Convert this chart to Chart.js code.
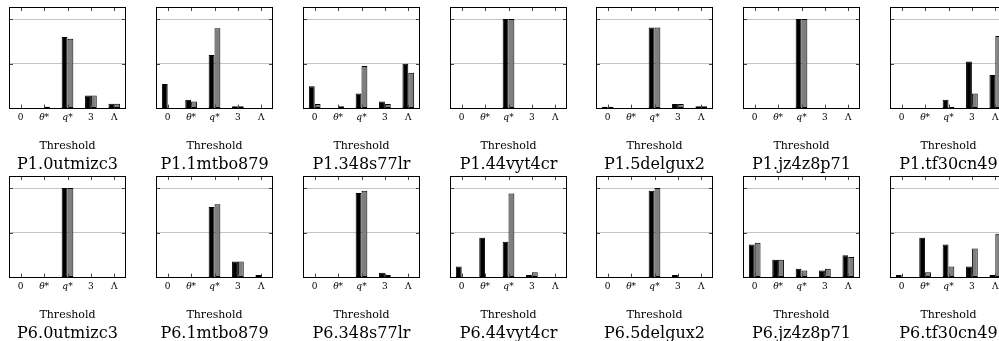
<!DOCTYPE html>
<html><head><meta charset="utf-8">
<script src="https://cdn.jsdelivr.net/npm/chart.js@4/dist/chart.umd.min.js"></script>
<style>
html,body{margin:0;padding:0;width:999px;height:341px;overflow:hidden;background:#fff;}
.panel{position:absolute;width:135px;height:177px;}
</style></head><body>
<script>
const categories = ['0', 'θ*', 'q*', '3', 'Λ'];
const axisTitle = 'Threshold';
const panelNames = [
  'P1.0utmizc3', 'P1.1mtbo879', 'P1.348s77lr', 'P1.44vyt4cr', 'P1.5delgux2', 'P1.jz4z8p71', 'P1.tf30cn49',
  'P6.0utmizc3', 'P6.1mtbo879', 'P6.348s77lr', 'P6.44vyt4cr', 'P6.5delgux2', 'P6.jz4z8p71', 'P6.tf30cn49'
];
// black bars (first series)
const blackValues = [
  [0, 0, 0.80, 0.147, 0.053],
  [0.275, 0.10, 0.60, 0.025, 0],
  [0.25, 0, 0.17, 0.08, 0.50],
  [0, 0, 1.0, 0, 0],
  [0.02, 0, 0.905, 0.05, 0.025],
  [0, 0, 1.0, 0, 0],
  [0, 0, 0.10, 0.525, 0.375],
  [0, 0, 1.0, 0, 0],
  [0, 0, 0.79, 0.18, 0.03],
  [0, 0, 0.945, 0.055, 0],
  [0.125, 0.445, 0.40, 0.03, 0],
  [0, 0, 0.97, 0.03, 0],
  [0.37, 0.20, 0.10, 0.08, 0.25],
  [0.03, 0.445, 0.37, 0.125, 0.03]
];
// gray bars (second series)
const grayValues = [
  [0, 0.02, 0.78, 0.147, 0.053],
  [0, 0.078, 0.897, 0.025, 0],
  [0.05, 0.025, 0.475, 0.05, 0.40],
  [0, 0, 1.0, 0, 0],
  [0.02, 0, 0.905, 0.05, 0.025],
  [0, 0, 1.0, 0, 0],
  [0, 0, 0.02, 0.17, 0.81],
  [0, 0, 1.0, 0, 0],
  [0, 0, 0.82, 0.18, 0],
  [0, 0, 0.97, 0.03, 0],
  [0, 0, 0.94, 0.06, 0],
  [0, 0, 1.0, 0, 0],
  [0.39, 0.20, 0.08, 0.10, 0.23],
  [0, 0.06, 0.125, 0.325, 0.49]
];
const yMax = 1.135;
const yStep = 0.5;

const FONT = "'DejaVu Serif', serif";

const framePlugin = {
  id: 'frame',
  afterDatasetsDraw(chart) {
    const {ctx, chartArea: a, scales: {x, y}} = chart;
    ctx.save();
    ctx.strokeStyle = '#444';
    ctx.lineWidth = 1;
    ctx.beginPath();
    x.ticks.forEach((t, i) => {
      const px = Math.round(x.getPixelForTick(i)) + 0.5;
      ctx.moveTo(px, a.top); ctx.lineTo(px, a.top + 4);
      ctx.moveTo(px, a.bottom); ctx.lineTo(px, a.bottom - 4);
    });
    y.ticks.forEach(t => {
      if (t.value === 0) return;
      const py = Math.round(y.getPixelForValue(t.value)) + 0.5;
      ctx.moveTo(a.left, py); ctx.lineTo(a.left + 4, py);
      ctx.moveTo(a.right, py); ctx.lineTo(a.right - 4, py);
    });
    ctx.stroke();
    ctx.strokeStyle = '#000';
    ctx.strokeRect(Math.round(a.left) + 0.5, Math.round(a.top) + 0.5,
      Math.round(a.right - a.left) - 1, Math.round(a.bottom - a.top) - 1);
    ctx.restore();
  }
};

panelNames.forEach((name, k) => {
  const row = Math.floor(k / 7), col = k % 7;
  const div = document.createElement('div');
  div.className = 'panel';
  div.style.left = Math.round(col * 146.85) + 'px';
  div.style.top = (row * 169) + 'px';
  const cv = document.createElement('canvas');
  div.appendChild(cv);
  document.body.appendChild(div);
  new Chart(cv, {
    type: 'bar',
    data: {
      labels: categories,
      datasets: [
        {data: blackValues[k], backgroundColor: '#000', borderColor: '#000', borderWidth: 1, borderSkipped: false,
         categoryPercentage: 0.5, barPercentage: 1.0},
        {data: grayValues[k], backgroundColor: '#7f7f7f', borderColor: '#000', borderWidth: 1, borderSkipped: false,
         categoryPercentage: 0.5, barPercentage: 1.0}
      ]
    },
    options: {
      responsive: true, maintainAspectRatio: false, animation: false, devicePixelRatio: 1,
      layout: {padding: {left: 9, right: 9, top: 7, bottom: 2.9}},
      plugins: {
        legend: {display: false},
        tooltip: {enabled: false},
        title: {display: true, position: 'bottom', text: name, color: '#000',
          font: {family: FONT, size: 16, weight: 'normal'}, padding: {top: 2.3, bottom: 0}}
      },
      scales: {
        x: {
          type: 'category', offset: true,
          grid: {display: false, drawTicks: false},
          border: {display: false},
          ticks: {padding: 3.5, color: '#000', maxRotation: 0, autoSkip: false,
            font: (c) => ({family: FONT, size: 9, style: (c.index === 1 || c.index === 2) ? 'italic' : 'normal'})},
          title: {display: true, text: axisTitle, color: '#000', font: {family: FONT, size: 11},
            padding: {top: 13, bottom: 0}}
        },
        y: {
          min: 0, max: yMax,
          ticks: {display: false, stepSize: yStep, includeBounds: false},
          grid: {drawTicks: false, color: (c) => c.tick && c.tick.value === 0 ? 'rgba(0,0,0,0)' : '#c4c4c4'},
          border: {display: false}
        }
      }
    },
    plugins: [framePlugin]
  });
});
</script>
</body></html>
